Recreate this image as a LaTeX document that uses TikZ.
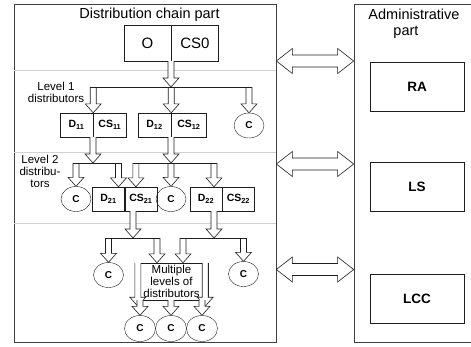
\documentclass[tikz,border=0pt]{standalone}
\usepackage{fontspec}
\setmainfont{Liberation Sans}
\usetikzlibrary{calc,positioning,shapes.geometric}
\definecolor{ink}{HTML}{1E1E1E}
\definecolor{rulegray}{HTML}{D2D2D2}
\tikzset{line width=.6pt,
  panel/.style={draw=ink!85,line width=.7pt,inner sep=0pt},
  sepline/.style={draw=rulegray,line width=.8pt},
  cell/.style={draw=ink,minimum width=32pt,minimum height=24pt,inner sep=0pt,
    font=\fontsize{10.5}{12}\selectfont\bfseries},
  topcell/.style={draw=ink,minimum width=47pt,minimum height=36pt,inner sep=0pt,
    font=\fontsize{15}{17}\selectfont},
  cust/.style={draw=ink,ellipse,minimum width=30pt,minimum height=25pt,inner sep=0pt,
    font=\fontsize{10}{12}\selectfont\bfseries},
  role/.style={draw=ink,minimum width=94pt,minimum height=49pt,
    font=\fontsize{13.5}{15}\selectfont\bfseries},
  lvl/.style={align=center,font=\fontsize{11.5}{12}\selectfont},
  heading/.style={font=\fontsize{14.5}{16}\selectfont},
  branch/.style={draw=ink,line width=.6pt},
  blk/.style={fill=white,draw=ink,line width=.6pt}}
% hollow block arrow, down from the level of #1 to the point #2
\newcommand\blkdown[2]{%
  \filldraw[blk] let \p1=(#1), \p2=(#2) in
    (\x2-3pt,\y1) -- (\x2-3pt,\y2+9pt) -- (\x2-8pt,\y2+9pt) -- (\x2,\y2)
    -- (\x2+8pt,\y2+9pt) -- (\x2+3pt,\y2+9pt) -- (\x2+3pt,\y1);}
% hollow two-headed arrow between #1 and #2
\newcommand\twoway[2]{%
  \filldraw[blk] let \p1=(#1), \p2=(#2) in
    (\x1,\y1) -- (\x1+16pt,\y1+12.5pt) -- (\x1+16pt,\y1+6pt) -- (\x2-16pt,\y1+6pt)
    -- (\x2-16pt,\y1+12.5pt) -- (\x2,\y1) -- (\x2-16pt,\y1-12.5pt) -- (\x2-16pt,\y1-6pt)
    -- (\x1+16pt,\y1-6pt) -- (\x1+16pt,\y1-12.5pt) -- cycle;}

\begin{document}
\begin{tikzpicture}[x=1pt,y=-1pt]
\useasboundingbox (0,0) rectangle (471,346);
\node[panel,minimum width=262pt,minimum height=338pt] (chain) at (145,173) {};
\node[panel,minimum width=120pt,minimum height=338pt] (admin) at (414,173) {};
\node[heading] (chaintitle) at (149.5,15) {Distribution chain part};
\node[heading,align=left] (admintitle) at (414,24) {Administrative\\\hspace*{25pt}part};
\foreach \yy in {70,152,223}
  \draw[sepline] (chain.west |- 0,\yy) -- (chain.east |- 0,\yy);

\node[topcell] (o) at (147.5,43) {O};
\node[topcell,right=0pt of o] (cs0) {CS0};
% level 1
\node[lvl] (lvl1) at (56,92.5) {Level 1\\distributors};
\node[cell,minimum width=33pt] (d11) at (76.5,125) {D\textsubscript{11}};
\node[cell,minimum width=33pt,right=0pt of d11] (cs11) {CS\textsubscript{11}};
\node[cell,minimum width=33pt] (d12) at (154.5,125) {D\textsubscript{12}};
\node[cell,minimum width=35pt,right=0pt of d12] (cs12) {CS\textsubscript{12}};
\node[cust] (c1) at (249,125.5) {C};
% level 2
\node[lvl] (lvl2) at (40,171) {Level 2\\distribu-\\tors};
\node[cust] (c2) at (76,199) {C};
\node[cell] (d21) at (108.5,199) {D\textsubscript{21}};
\node[cell,right=0pt of d21] (cs21) {CS\textsubscript{21}};
\node[cust] (c3) at (171,199) {C};
\node[cell] (d22) at (206,199) {D\textsubscript{22}};
\node[cell,right=0pt of d22] (cs22) {CS\textsubscript{22}};
% further levels
\node[cust] (c4) at (108.5,275) {C};
\node[cust] (c5) at (243.5,274) {C};
\node[draw=ink,minimum width=73pt,minimum height=37pt,inner sep=0pt,lvl] (multi)
  at (171.5,281.5) {Multiple\\levels of\\distributors};
\foreach \k/\xx in {6/140,7/171,8/202}
  \node[cust,minimum width=31pt,minimum height=26pt] (c\k) at (\xx,328.5) {C};

\node[role] (ra) at (417,86.5) {RA};
\node[role] (ls) at (417,187) {LS};
\node[role] (lcc) at (417,298.5) {LCC};

\coordinate (j1) at (171,87);
\coordinate (j2) at (93,163);
\coordinate (j3) at (171,163);
\coordinate (j4) at (133,238);
\coordinate (j5) at (214,238);

\blkdown{o.south east}{j1}
\foreach \t in {d11.north east,d12.north east,c1.north} {\blkdown{j1}{\t}}
\draw[branch] ($(d11.north east |- j1)+(-3,0)$) -- ($(c1.north |- j1)+(3,0)$);

\blkdown{d11.south east}{j2}
\blkdown{j2}{c2.north}
\blkdown{j2}{$(d21.north)+(10,0)$}
\draw[branch] ($(c2.north |- j2)+(-3,0)$) -- ($(d21.north |- j2)+(13,0)$);
\blkdown{d12.south east}{j3}
\blkdown{j3}{$(cs21.north)+(-5,0)$}
\blkdown{j3}{c3.north}
\blkdown{j3}{$(d22.north)+(8,0)$}
\draw[branch] ($(cs21.north |- j3)+(-8,0)$) -- ($(d22.north |- j3)+(11,0)$);

\blkdown{cs21.south}{j4}
\blkdown{j4}{c4.north}
\blkdown{j4}{$(multi.north)+(-14.5,0)$}
\draw[branch] ($(c4.north |- j4)+(-3,0)$) -- ($(multi.north |- j4)+(-11.5,0)$);
\blkdown{d22.south}{j5}
\blkdown{j5}{$(multi.north)+(11.5,0)$}
\blkdown{j5}{c5.north}
\draw[branch] ($(multi.north |- j5)+(8.5,0)$) -- ($(c5.north |- j5)+(3,0)$);

\blkdown{multi.north west}{$(multi.south west)+(3,6)$}
\blkdown{multi.north east}{$(multi.south east)+(-3,6)$}
\foreach \k in {6,7,8} {\blkdown{multi.south}{c\k.north}}

\foreach \yy in {61,164,269.5}
  {\twoway{chain.east |- 0,\yy}{admin.west |- 0,\yy}}
\end{tikzpicture}
\end{document}
